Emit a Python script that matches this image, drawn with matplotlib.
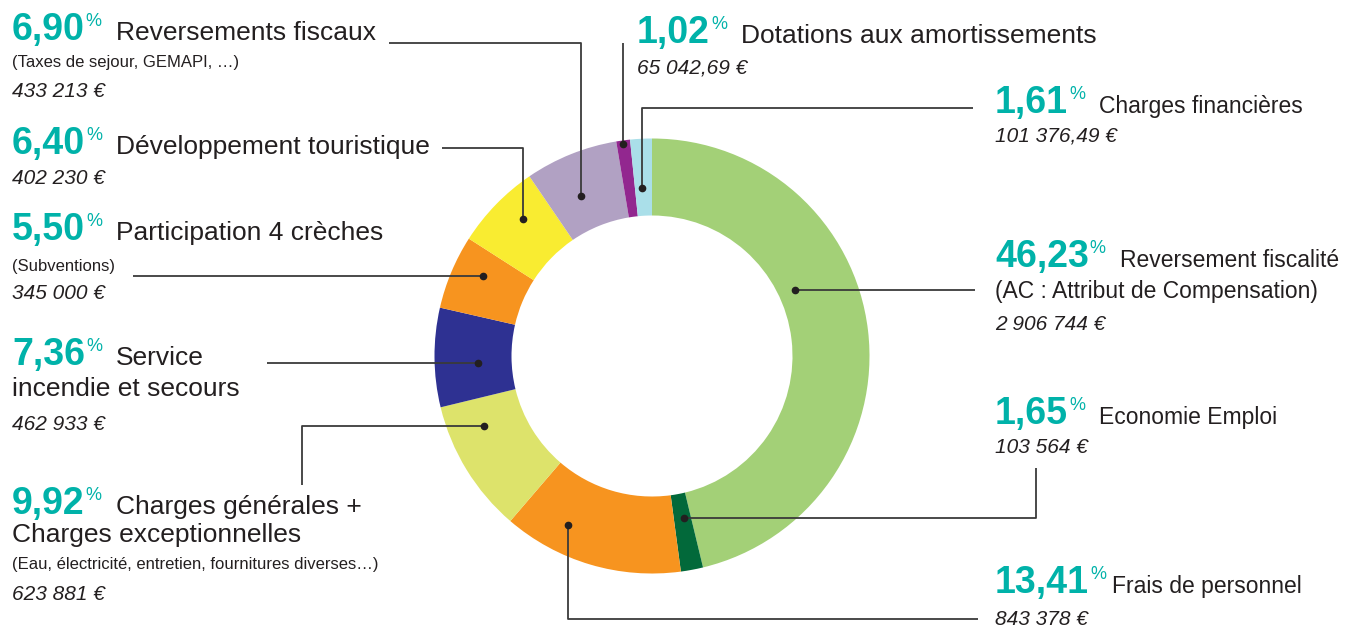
import matplotlib
matplotlib.use("Agg")
import matplotlib.pyplot as plt
from matplotlib import font_manager

# ============================================================================
# Data
# ============================================================================
categories = [
    "Reversement fiscalité", "Economie Emploi", "Frais de personnel",
    "Charges générales + Charges exceptionnelles", "Service incendie et secours",
    "Participation 4 crèches", "Développement touristique",
    "Reversements fiscaux", "Dotations aux amortissements", "Charges financières",
]
shares = [46.23, 1.65, 13.41, 9.92, 7.36, 5.50, 6.40, 6.90, 1.02, 1.61]
pct_labels = ["46,23", "1,65", "13,41", "9,92", "7,36", "5,50", "6,40", "6,90", "1,02", "1,61"]
amounts = ["2 906 744 €", "103 564 €", "843 378 €", "623 881 €", "462 933 €",
           "345 000 €", "402 230 €", "433 213 €", "65 042,69 €", "101 376,49 €"]
colors = ["#a3d077", "#02693a", "#f7941f", "#dde36b", "#2e3192",
          "#f7941f", "#f9ec31", "#b1a1c3", "#92278f", "#aadfe9"]

TEAL = "#00b2a9"
INK = "#231f20"
LINE = "#3a3a3a"
W, H = 1356, 629

installed = {f.name for f in font_manager.fontManager.ttflist}


def pick(*names):
    for n in names:
        if n in installed:
            return n
    return "DejaVu Sans"


SANS = pick("Liberation Sans", "DejaVu Sans")

# ============================================================================
# Figure + donut
# ============================================================================
fig = plt.figure(figsize=(W / 100, H / 100), dpi=100)
ax = fig.add_axes([0, 0, 1, 1])
ax.pie(shares, colors=colors, startangle=-90, counterclock=True,
       radius=217.5, center=(652, 356),
       wedgeprops=dict(width=77, linewidth=0))
ax.set_xlim(0, W)
ax.set_ylim(H, 0)
ax.set_aspect("auto")
ax.axis("off")

r = fig.canvas.get_renderer()


def header(x, y, idx, label, lsize, gap=14):
    t = ax.text(x, y, pct_labels[idx], fontsize=27, fontweight="bold",
                color=TEAL, family=SANS, va="baseline", ha="left")
    bb = t.get_window_extent(r)
    p = ax.text(bb.x1 + 1, y - 27, "%", fontsize=13, color=TEAL,
                family=SANS, va="top", ha="left")
    pb = p.get_window_extent(r)
    ax.text(pb.x1 + gap, y, label, fontsize=lsize, color=INK,
            family=SANS, va="baseline", ha="left")


def line(x, y, s, size=12, style="normal"):
    ax.text(x, y, s, fontsize=size, color=INK, family=SANS,
            style=style, va="baseline", ha="left")


def amount(x, y, idx):
    line(x, y, amounts[idx], size=15, style="italic")


# --- left column ---
header(12, 40, 7, "Reversements fiscaux", 19)
line(12, 67, "(Taxes de sejour, GEMAPI, …)")
amount(12, 97, 7)

header(12, 154, 6, "Développement touristique", 19)
amount(12, 184, 6)

header(12, 240, 5, "Participation 4 crèches", 19)
line(12, 271, "(Subventions)")
amount(12, 299, 5)

header(12, 365, 4, "Service", 19)
line(12, 396, "incendie et secours", size=19)
amount(12, 430, 4)

header(12, 514, 3, "Charges générales +", 19)
line(12, 542, "Charges exceptionnelles", size=19)
line(12, 569, "(Eau, électricité, entretien, fournitures diverses…)")
amount(12, 600, 3)

# --- right column ---
header(637, 43, 8, "Dotations aux amortissements", 19)
amount(637, 73, 8)

header(995, 113, 9, "Charges financières", 16.5)
amount(995, 142, 9)

header(995, 267, 0, "Reversement fiscalité", 16.5)
line(995, 298, "(AC : Attribut de Compensation)", size=16.5)
amount(995, 330, 0)

header(995, 424, 1, "Economie Emploi", 16.5)
amount(995, 453, 1)

header(995, 593, 2, "Frais de personnel", 16.5, gap=6)
amount(995, 625, 2)

# ============================================================================
# Leader lines (pixel layout), dot sits on the wedge end
# ============================================================================
leaders = [
    [(795, 290), (975, 290)],
    [(684, 518), (1036, 518), (1036, 468)],
    [(568, 525), (568, 619), (978, 619)],
    [(484, 426), (302, 426), (302, 485)],
    [(478, 363), (267, 363)],
    [(483, 276), (133, 276)],
    [(523, 219), (523, 148), (442, 148)],
    [(581, 196), (581, 43), (389, 43)],
    [(623, 144), (623, 43)],
    [(642, 188), (642, 108), (973, 108)],
]
for pts in leaders:
    xs = [p[0] for p in pts]
    ys = [p[1] for p in pts]
    ax.plot(xs, ys, color=LINE, lw=1.3, solid_capstyle="butt")
    ax.plot(xs[0], ys[0], "o", ms=4.5, color=INK)

fig.savefig("out.png", dpi=100)
plt.close(fig)
